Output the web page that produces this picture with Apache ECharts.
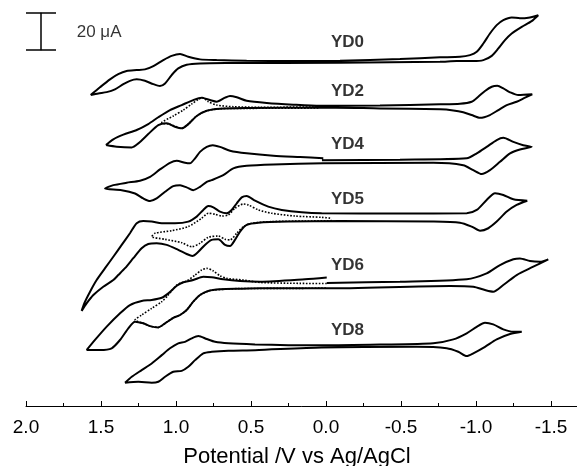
<!DOCTYPE html>
<html>
<head>
<meta charset="utf-8">
<script src="https://cdn.jsdelivr.net/npm/echarts@6/dist/echarts.min.js"></script>
<style>
    html, body { margin: 0; padding: 0; background: #fff; }
    #main { width: 577px; height: 466px; }
</style>
</head>
<body>
<div id="main"></div>
<script>
    // potential (V) / current (uA, relative to each trace's baseline)
    var names = ['YD0', 'YD2', 'YD4', 'YD5', 'YD6', 'YD8'];
    var offsets = [186.2, 161.9, 132.4, 102.2, 65.4, 32.4];
    var labelPos = [[-0.143, 196.4], [-0.143, 170.3], [-0.143, 141.5], [-0.143, 111.9], [-0.143, 76.2], [-0.143, 41.1]];
    var tickValues = [2.0, 1.5, 1.0, 0.5, 0.0, -0.5, -1.0, -1.5];

    var yd0 = [
        [1.569, -18.1], [1.507, -13.9], [1.44, -9.6], [1.385, -6.8], [1.329, -5.1], [1.262, -4.6], [1.207, -4.2],
        [1.151, -2.4], [1.085, 0.8], [1.029, 3.1], [0.973, 4.1], [0.918, 2.6], [0.84, 1.2], [0.729, 0.8],
        [0.529, 0.4], [0.218, 0.3], [-0.093, 0.5], [-0.493, 1.4], [-0.76, 2.3], [-0.893, 2.6], [-0.96, 3.5],
        [-1.005, 5.3], [-1.049, 9.8], [-1.093, 15.2], [-1.138, 19.7], [-1.182, 22.4], [-1.238, 23.9],
        [-1.293, 23.4], [-1.349, 23.7], [-1.415, 25.1],
        [-1.371, 21.9], [-1.305, 18.8], [-1.238, 15.2], [-1.193, 11.6], [-1.149, 7.1], [-1.105, 3.1],
        [-1.049, 0.8], [-0.982, 0.3], [-0.871, 0.3], [-0.76, -0.1], [-0.093, -0.6], [0.662, -0.8], [0.84, -1.0],
        [0.929, -1.7], [0.985, -3.7], [1.029, -7.3], [1.073, -11.8], [1.107, -13.2], [1.151, -12.2],
        [1.207, -10.4], [1.262, -9.6], [1.307, -10.4], [1.351, -12.2], [1.407, -15.0], [1.462, -16.5],
        [1.518, -17.2], [1.569, -18.1]
    ];

    var yd2 = [
        [1.467, -20.8], [1.418, -17.7], [1.351, -15.2], [1.262, -12.7], [1.185, -9.5], [1.118, -5.8], [1.04, -1.9],
        [0.962, 0.8], [0.885, 3.5], [0.829, 4.8], [0.773, 3.5], [0.729, 2.6], [0.673, 4.8], [0.64, 5.7],
        [0.595, 5.0], [0.529, 3.1], [0.395, 1.9], [0.218, 1.0], [0.04, 0.4], [-0.36, 0.6], [-0.76, 1.2],
        [-0.893, 1.5], [-0.971, 2.6], [-1.015, 5.3], [-1.06, 8.4], [-1.105, 10.7], [-1.142, 11.2],
        [-1.182, 9.8], [-1.227, 7.7], [-1.282, 6.2], [-1.375, 6.6],
        [-1.327, 4.8], [-1.271, 2.6], [-1.205, 0.8], [-1.149, -1.9], [-1.093, -4.6], [-1.027, -6.1],
        [-0.971, -4.6], [-0.915, -3.1], [-0.849, -2.1], [-0.76, -1.5], [-0.36, -1.0], [0.04, -0.5],
        [0.529, -0.8], [0.707, -1.2], [0.795, -2.3], [0.862, -5.1], [0.918, -9.5], [0.962, -11.8],
        [1.007, -10.9], [1.062, -9.1], [1.118, -10.0], [1.185, -14.9], [1.251, -19.9], [1.295, -22.1],
        [1.395, -21.7], [1.467, -20.8]
    ];
    var yd2Dot = [
        [0.04, -0.2], [0.44, -0.4], [0.618, -0.1], [0.729, 0.8], [0.785, 2.6], [0.822, 4.8], [0.851, 3.9],
        [0.895, 1.4], [0.951, -1.9], [1.018, -5.1], [1.095, -8.8], [1.04, -9.6], [0.962, -11.8], [0.918, -9.5],
        [0.862, -5.1], [0.795, -2.3], [0.707, -1.2], [0.529, -1.0], [0.04, -0.8]
    ];

    var yd4 = [
        [0.027, 0.5], [-0.493, 0.8], [-0.938, 1.5], [-1.005, 4.2], [-1.071, 7.7], [-1.138, 11.4], [-1.182, 12.6],
        [-1.249, 10.4], [-1.315, 8.6], [-1.371, 7.7],
        [-1.293, 6.3], [-1.227, 4.2], [-1.16, -0.4], [-1.093, -4.9], [-1.038, -7.0], [-0.982, -4.9],
        [-0.915, -2.2], [-0.715, -0.9], [0.018, -1.2], [0.351, -1.8], [0.529, -2.5], [0.618, -3.9],
        [0.685, -7.6], [0.762, -10.3], [0.795, -11.2], [0.84, -13.9], [0.885, -15.7], [0.929, -14.2],
        [0.973, -13.0], [1.018, -13.5], [1.073, -16.6], [1.129, -20.2], [1.173, -21.6], [1.218, -20.2],
        [1.273, -17.5], [1.362, -15.7], [1.473, -14.8],
        [1.418, -13.0], [1.329, -11.7], [1.24, -10.6], [1.173, -8.5], [1.107, -4.5], [1.04, -0.9], [0.995, 0.2],
        [0.94, -0.9], [0.907, -1.2], [0.873, 1.5], [0.84, 5.0], [0.795, 7.7], [0.755, 8.6], [0.707, 7.7],
        [0.64, 5.6], [0.529, 4.2], [0.351, 2.9], [0.173, 2.2], [0.018, 1.6]
    ];

    var yd5 = [
        [-1.342, 8.8], [-1.249, 9.6], [-1.182, 11.9], [-1.127, 12.8], [-1.071, 9.2], [-1.005, 3.8], [-0.938, 2.0],
        [-0.493, 1.9], [0.029, 2.0], [0.162, 2.5], [0.295, 3.8], [0.385, 5.6], [0.473, 8.8], [0.529, 11.4],
        [0.562, 10.6], [0.595, 7.4], [0.629, 3.8], [0.662, 2.0], [0.707, 2.9], [0.751, 5.2], [0.785, 5.9],
        [0.818, 3.8], [0.862, 0.2], [0.918, -2.5], [1.007, -3.4], [1.095, -3.4], [1.162, -2.5], [1.218, -2.2],
        [1.262, -3.4], [1.307, -8.8], [1.362, -15.1], [1.418, -21.5], [1.473, -27.7], [1.529, -34.1],
        [1.573, -40.4], [1.611, -46.6], [1.629, -50.8],
        [1.595, -46.6], [1.551, -42.2], [1.485, -37.7], [1.418, -34.1], [1.385, -31.4], [1.34, -27.7],
        [1.285, -22.3], [1.229, -16.9], [1.185, -14.6], [1.129, -14.2], [1.062, -15.1], [0.985, -17.8],
        [0.929, -20.0], [0.891, -21.1], [0.851, -18.8], [0.807, -15.1], [0.762, -12.4], [0.718, -12.1],
        [0.673, -15.1], [0.64, -15.7], [0.607, -12.4], [0.573, -7.9], [0.529, -4.3], [0.451, -3.1],
        [0.251, -2.5], [-0.093, -2.2], [-0.715, -2.5], [-0.893, -3.1], [-0.971, -5.2], [-1.027, -7.4],
        [-1.082, -6.1], [-1.138, -2.5], [-1.205, 2.9], [-1.271, 6.5], [-1.342, 8.8]
    ];
    var yd5Dot = [
        [-0.038, -2.0], [0.14, -2.2], [0.362, -2.5], [0.495, -3.4], [0.551, -5.2], [0.595, -8.8], [0.64, -12.4],
        [0.673, -12.1], [0.718, -10.3], [0.785, -11.0], [0.84, -14.2], [0.895, -16.1], [0.962, -13.9],
        [1.073, -12.1], [1.162, -10.6],
        [1.14, -8.8], [1.029, -7.4], [0.918, -5.2], [0.829, -0.7], [0.785, 2.0], [0.74, 1.5], [0.695, 0.5],
        [0.651, 1.1], [0.607, 4.7], [0.551, 7.0], [0.518, 6.5], [0.451, 3.8], [0.362, 2.0], [0.207, 0.5],
        [0.029, -0.2], [-0.038, -0.7]
    ];

    var yd6 = [
        [-0.005, 1.1], [-0.493, 1.8], [-0.938, 3.1], [-1.071, 6.3], [-1.16, 10.8], [-1.249, 13.9], [-1.293, 14.4],
        [-1.36, 13.0], [-1.427, 12.6], [-1.482, 13.9],
        [-1.382, 9.9], [-1.271, 5.4], [-1.182, 0], [-1.115, -3.6], [-1.06, -2.7], [-0.982, -0.9], [-0.827, -0.5],
        [-0.005, -1.8], [0.44, -1.8], [0.573, -2.0], [0.707, -2.3], [0.785, -3.2], [0.84, -5.4], [0.885, -9.0],
        [0.929, -13.5], [0.973, -16.2], [1.018, -17.7], [1.073, -20.7], [1.118, -22.9], [1.173, -22.2],
        [1.218, -20.7], [1.273, -19.8], [1.318, -23.4], [1.373, -29.7], [1.429, -34.2], [1.507, -35.1],
        [1.595, -35.1],
        [1.54, -29.7], [1.462, -22.5], [1.373, -15.3], [1.307, -10.8], [1.229, -8.6], [1.162, -8.1],
        [1.095, -6.9], [1.051, -4.5], [0.995, -0.4], [0.951, 1.5], [0.885, 2.7], [0.818, 4.5], [0.762, 4.2],
        [0.685, 3.1], [0.573, 2.2], [0.44, 1.8], [0.14, 3.1], [-0.005, 4.1]
    ];
    var yd6Dot = [
        [-0.005, 0.8], [0.173, 0.9], [0.44, 1.4], [0.551, 2.7], [0.662, 3.6], [0.707, 5.0], [0.751, 7.6],
        [0.795, 9.0], [0.829, 8.1], [0.873, 5.4], [0.929, 2.2], [0.995, 0], [1.051, -5.4], [1.095, -9.0],
        [1.162, -12.6], [1.229, -16.2], [1.273, -18.9],
        [1.218, -20.7], [1.173, -22.2], [1.118, -22.9], [1.073, -20.7], [1.018, -17.7], [0.973, -16.2],
        [0.929, -13.5], [0.885, -9.0], [0.84, -5.4], [0.785, -3.2], [0.751, -2.7], [0.573, -1.9],
        [0.173, -1.8], [-0.005, -1.6]
    ];

    var yd8 = [
        [1.34, -19.8], [1.295, -16.6], [1.229, -13.0], [1.162, -9.4], [1.095, -4.9], [1.04, -1.2], [0.985, 1.5],
        [0.94, 2.3], [0.895, 4.2], [0.851, 5.4], [0.795, 3.8], [0.74, 2.3], [0.651, 1.5], [0.473, 0.9],
        [0.251, 0.5], [0.029, 0.4], [-0.36, 0.8], [-0.715, 1.5], [-0.849, 3.6], [-0.938, 6.9], [-1.005, 10.4],
        [-1.06, 12.6], [-1.115, 11.7], [-1.182, 9.0], [-1.249, 7.7], [-1.305, 7.7],
        [-1.227, 6.5], [-1.138, 3.6], [-1.06, -0.4], [-0.982, -3.9], [-0.938, -5.4], [-0.882, -3.1],
        [-0.805, -1.2], [-0.605, -0.4], [0.029, -0.8], [0.473, -2.2], [0.651, -2.5], [0.762, -3.1],
        [0.818, -3.9], [0.873, -7.6], [0.918, -11.2], [0.962, -13.4], [1.018, -13.9], [1.073, -16.6],
        [1.118, -19.3], [1.162, -19.8], [1.251, -19.3], [1.34, -19.8]
    ];

    // 20 uA scale bar
    var scaleX = [2.0, 1.9, 1.8];
    var scaleY = [192.4, 212.6];
    var scaleText = [1.662, 201.8];

    var solid = [yd0, yd2, yd4, yd5, yd6, yd8];
    var dotted = [null, yd2Dot, null, yd5Dot, yd6Dot, null];

    var font = 'Liberation Sans';

    function lift(arr, off) {
        return arr.map(function(p) {
            return [p[0], +(p[1] + off).toFixed(2)];
        });
    }

    function traceSeries(arr, off, dash) {
        return {
            type: 'line',
            data: lift(arr, off),
            symbol: 'none',
            smooth: 0.25,
            clip: false,
            silent: true,
            z: dash ? 3 : 2,
            lineStyle: {
                color: '#000',
                width: dash ? 1.6 : 2,
                type: dash ? 'dotted' : 'solid'
            }
        };
    }

    var series = [];
    for (var i = 0; i < solid.length; i++) {
        series.push(traceSeries(solid[i], offsets[i], false));
        if (dotted[i]) {
            series.push(traceSeries(dotted[i], offsets[i], true));
        }
    }

    series.push({
        type: 'lines',
        coordinateSystem: 'cartesian2d',
        silent: true,
        lineStyle: { color: '#000', width: 1.5, opacity: 1 },
        data: [
            { coords: [[scaleX[1], scaleY[0]], [scaleX[1], scaleY[1]]] },
            { coords: [[scaleX[0], scaleY[0]], [scaleX[2], scaleY[0]]] },
            { coords: [[scaleX[0], scaleY[1]], [scaleX[2], scaleY[1]]] }
        ]
    });

    var labelData = names.map(function(n, k) {
        return { name: n, value: labelPos[k] };
    });
    labelData.push({
        name: '20 \u03bcA',
        value: scaleText,
        label: { align: 'left', fontWeight: 'normal', fontSize: 17 }
    });

    series.push({
        type: 'scatter',
        data: labelData,
        symbolSize: 1,
        silent: true,
        itemStyle: { color: 'rgba(0,0,0,0)' },
        label: {
            show: true,
            position: 'inside',
            formatter: '{b}',
            color: '#000',
            fontFamily: font,
            fontSize: 17,
            fontWeight: 'bold'
        }
    });

    var chart = echarts.init(document.getElementById('main'));
    chart.setOption({
        animation: false,
        backgroundColor: '#fff',
        grid: {
            left: 26,
            top: 0,
            width: 600,
            height: 406,
            containLabel: false,
            outerBoundsMode: 'none'
        },
        xAxis: {
            type: 'value',
            inverse: true,
            min: -2.0,
            max: 2.0,
            interval: 0.5,
            name: 'Potential /V vs Ag/AgCl',
            nameLocation: 'middle',
            nameGap: 40,
            nameTextStyle: { fontSize: 22, color: '#000', fontFamily: font, padding: [0, 58, 0, 0] },
            axisLine: { onZero: false, lineStyle: { color: '#000', width: 1 } },
            axisTick: { inside: true, length: 5, lineStyle: { color: '#000', width: 1 } },
            minorTick: { show: true, splitNumber: 2, length: 3, lineStyle: { color: '#000', width: 1 } },
            splitLine: { show: false },
            axisLabel: {
                margin: 12,
                fontSize: 19,
                color: '#000',
                fontFamily: font,
                formatter: function(v) {
                    return tickValues.indexOf(v) >= 0 ? v.toFixed(1) : '';
                }
            }
        },
        yAxis: {
            type: 'value',
            min: 0,
            max: 219.5,
            show: false
        },
        series: series
    });
</script>
</body>
</html>
